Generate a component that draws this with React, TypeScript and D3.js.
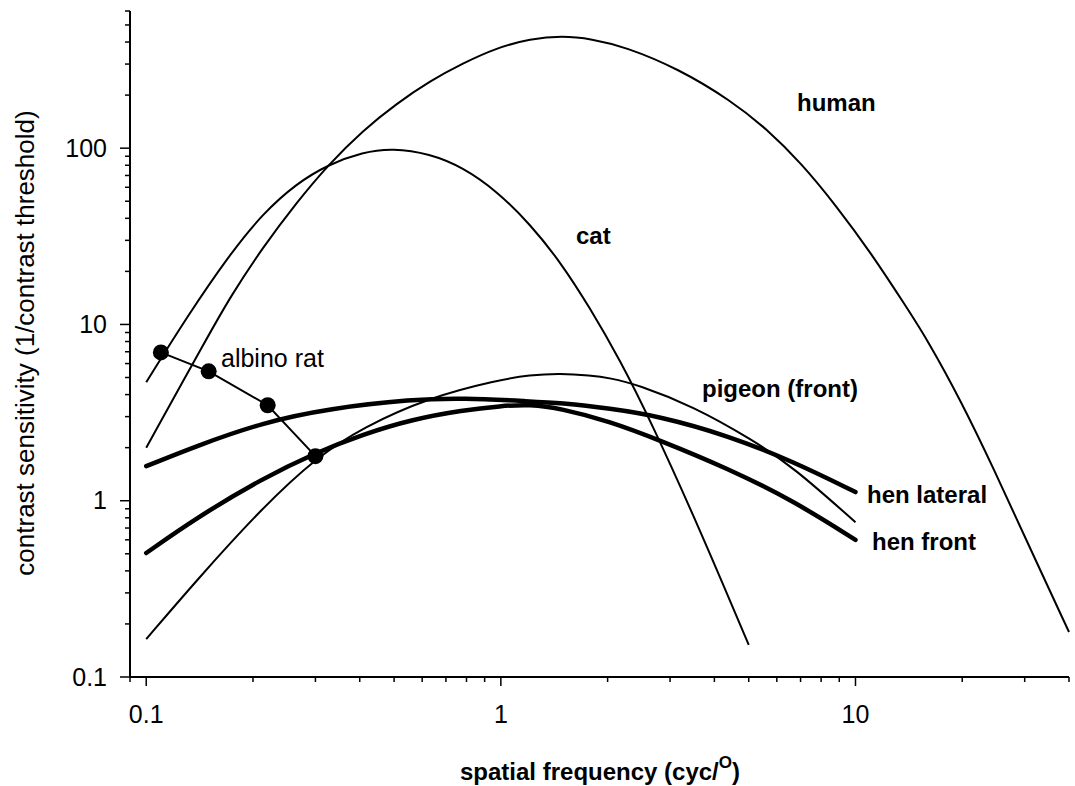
import React from 'react';
import * as d3 from 'd3';

const W = 1075;
const H = 786;

// spatial frequency (cyc/deg) and contrast sensitivity
const humanFreq = [0.1, 0.148, 0.172, 0.213, 0.265, 0.327, 0.408, 0.508, 0.63, 0.781, 0.974, 1.21, 1.49, 1.8, 2.24, 3.16, 4.46, 5.61, 7.04, 8.83, 11.1, 13.9, 16.0, 19.8, 24.5, 30.6, 40];
const humanSens = [2.0, 8.3, 14.2, 27.3, 49, 81, 126, 179, 240, 303, 371, 417, 434, 417, 376, 283, 186, 129, 82, 47, 25.2, 12.6, 8.1, 3.71, 1.53, 0.574, 0.18];

const catFreq = [0.1, 0.1305, 0.172, 0.213, 0.265, 0.327, 0.408, 0.495, 0.63, 0.78, 0.975, 1.21, 1.47, 1.78, 2.17, 2.64, 3.65, 5.0];
const catSens = [4.7, 11.1, 25, 42.5, 63, 81, 95, 100, 93, 78, 57, 37, 22.7, 12.5, 6.25, 2.86, 0.68, 0.152];

const pigeonFreq = [0.1, 0.138, 0.213, 0.302, 0.408, 0.63, 0.974, 1.21, 1.47, 1.785, 2.03, 2.42, 3.49, 5.15, 6.68, 10];
const pigeonSens = [0.164, 0.35, 0.918, 1.76, 2.61, 3.86, 4.82, 5.17, 5.28, 5.14, 4.97, 4.57, 3.43, 2.2, 1.55, 0.755];

const henLateralFreq = [0.1, 0.138, 0.213, 0.329, 0.564, 0.781, 1.21, 1.47, 2.03, 2.81, 4.35, 6.68, 10];
const henLateralSens = [1.57, 2.04, 2.78, 3.34, 3.76, 3.83, 3.66, 3.59, 3.34, 3.01, 2.35, 1.67, 1.12];

const henFrontFreq = [0.1, 0.138, 0.213, 0.302, 0.408, 0.564, 0.781, 1.0, 1.21, 1.47, 2.03, 2.81, 4.35, 6.68, 10];
const henFrontSens = [0.505, 0.796, 1.34, 1.88, 2.38, 2.9, 3.26, 3.45, 3.52, 3.34, 2.82, 2.2, 1.53, 1.0, 0.6];

const ratFreq = [0.11, 0.15, 0.22, 0.3];
const ratSens = [6.94, 5.42, 3.48, 1.79];

const xMajorTicks = [0.1, 1, 10];
const xTickLabels = ['0.1', '1', '10'];
const yMajorTicks = [0.1, 1, 10, 100];
const yTickLabels = ['0.1', '1', '10', '100'];

const xDomain = [0.09, 40];
const yDomain = [0.1, 600];

const FONT = '"Liberation Sans", Arial, Helvetica, sans-serif';

type Pt = [number, number];
const zip = (a: number[], b: number[]): Pt[] => a.map((v, i) => [v, b[i]] as Pt);

export default function App() {
  const x = d3.scaleLog().domain(xDomain).range([130, 1069]);
  const y = d3.scaleLog().domain(yDomain).range([677, 11]);

  const line = d3
    .line<Pt>()
    .x((d) => x(d[0]))
    .y((d) => y(d[1]))
    .curve(d3.curveBasis);
  const straight = d3
    .line<Pt>()
    .x((d) => x(d[0]))
    .y((d) => y(d[1]));

  const xTicks = x.ticks();
  const yTicks = y.ticks();
  const isMajor = (v: number, majors: number[]) => majors.some((m) => Math.abs(m - v) / m < 1e-6);

  const thin = { fill: 'none', stroke: '#000', strokeWidth: 2 };
  const thick = { fill: 'none', stroke: '#000', strokeWidth: 4.5, strokeLinecap: 'round' as const };

  const rat = zip(ratFreq, ratSens);

  return (
    <svg
      width={W}
      height={H}
      style={{ position: 'absolute', left: 0, top: 0, display: 'block', background: '#fff' }}
      fontFamily={FONT}
    >
      <rect x={0} y={0} width={W} height={H} fill="#fff" />

      {/* curves */}
      <path d={line(zip(humanFreq, humanSens)) || ''} {...thin} />
      <path d={line(zip(catFreq, catSens)) || ''} {...thin} />
      <path d={line(zip(pigeonFreq, pigeonSens)) || ''} {...thin} />
      <path d={line(zip(henLateralFreq, henLateralSens)) || ''} {...thick} />
      <path d={line(zip(henFrontFreq, henFrontSens)) || ''} {...thick} />

      {/* albino rat */}
      <path d={straight(rat) || ''} fill="none" stroke="#000" strokeWidth={2} />
      {rat.map((d, i) => (
        <circle key={i} cx={x(d[0])} cy={y(d[1])} r={8} fill="#000" />
      ))}

      {/* axes */}
      <line x1={x(xDomain[0])} x2={x(xDomain[1])} y1={677} y2={677} stroke="#000" strokeWidth={2} />
      <line x1={130} x2={130} y1={y(yDomain[0])} y2={y(yDomain[1])} stroke="#000" strokeWidth={2} />

      {xTicks.map((t, i) => (
        <line
          key={'xt' + i}
          x1={x(t)}
          x2={x(t)}
          y1={677}
          y2={isMajor(t, xMajorTicks) ? 686 : 682}
          stroke="#000"
          strokeWidth={1.5}
        />
      ))}
      {yTicks.map((t, i) => (
        <line
          key={'yt' + i}
          x1={130}
          x2={isMajor(t, yMajorTicks) ? 120 : 125}
          y1={y(t)}
          y2={y(t)}
          stroke="#000"
          strokeWidth={1.5}
        />
      ))}

      {xMajorTicks.map((t, i) => (
        <text key={'xl' + i} x={x(t)} y={723} textAnchor="middle" fontSize={25} fill="#000">
          {xTickLabels[i]}
        </text>
      ))}
      {yMajorTicks.map((t, i) => (
        <text key={'yl' + i} x={107} y={y(t)} dy="0.35em" textAnchor="end" fontSize={25} fill="#000">
          {yTickLabels[i]}
        </text>
      ))}

      {/* axis titles */}
      <text x={460} y={780} fontSize={24} fontWeight="bold" fill="#000">
        spatial frequency (cyc/
        <tspan fontSize={17} dy={-12}>O</tspan>
        <tspan dy={12}>)</tspan>
      </text>
      <text
        transform="translate(34,343) rotate(-90)"
        textAnchor="middle"
        fontSize={26}
        fill="#000"
      >
        contrast sensitivity (1/contrast threshold)
      </text>

      {/* curve labels */}
      <text x={797} y={111} fontSize={24} fontWeight="bold">human</text>
      <text x={576} y={244} fontSize={24} fontWeight="bold">cat</text>
      <text x={221} y={367} fontSize={25}>albino rat</text>
      <text x={702} y={397} fontSize={24} fontWeight="bold">pigeon (front)</text>
      <text x={867} y={503} fontSize={24} fontWeight="bold">hen lateral</text>
      <text x={872} y={550} fontSize={24} fontWeight="bold">hen front</text>
    </svg>
  );
}
